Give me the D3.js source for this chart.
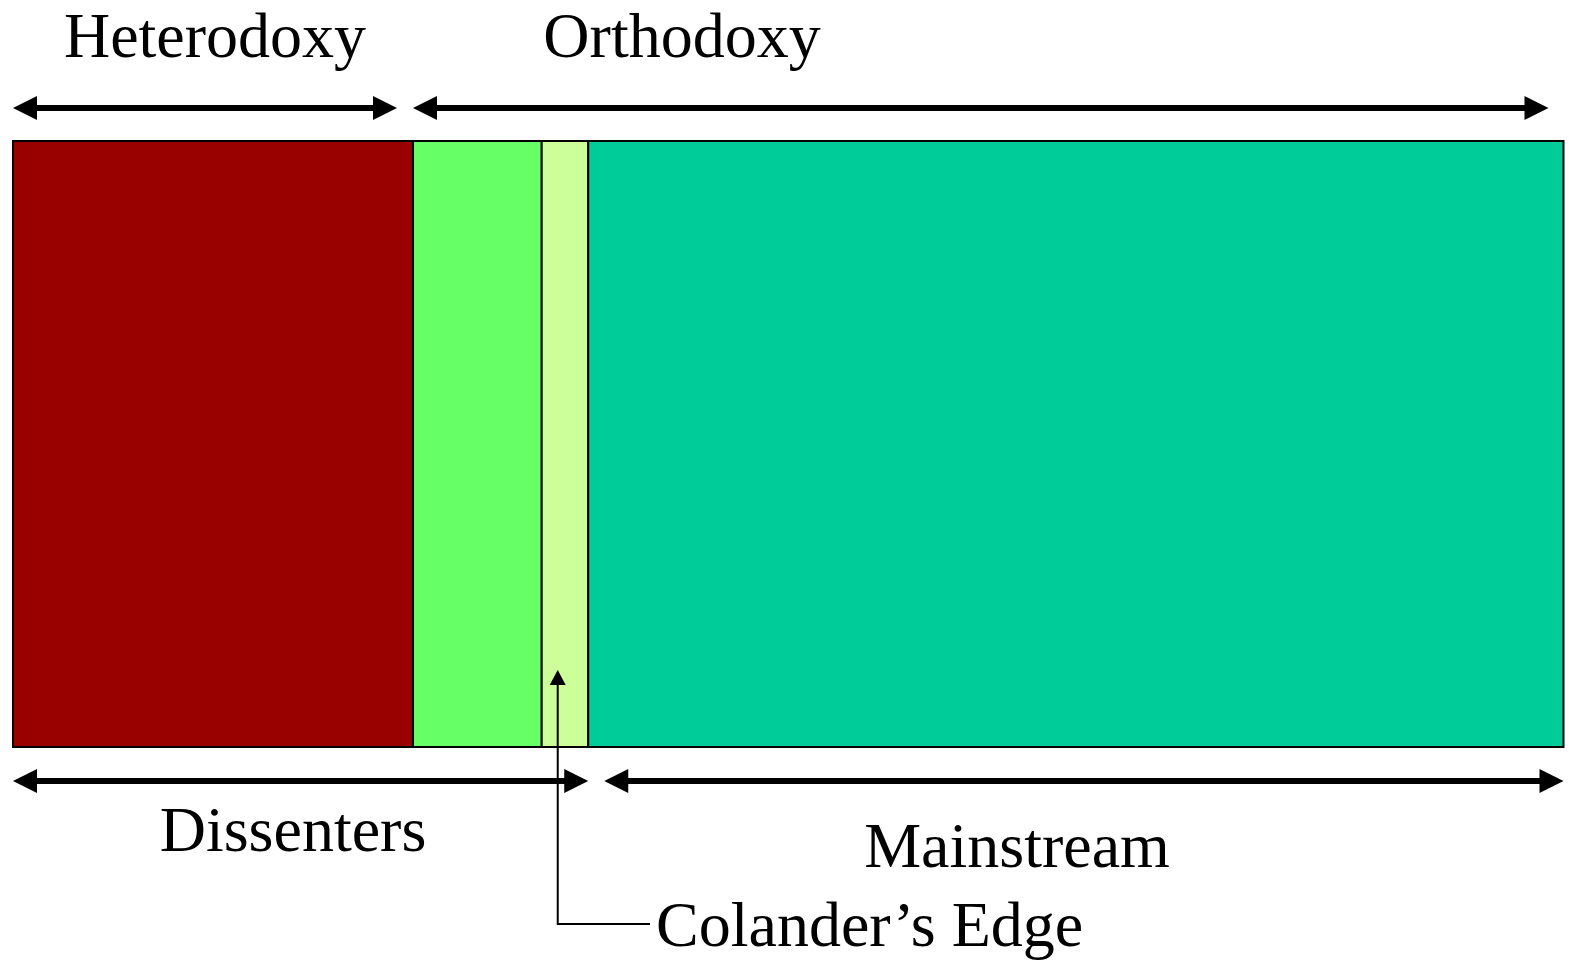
<!DOCTYPE html>
<meta charset="utf-8">
<script src="https://d3js.org/d3.v7.min.js"></script>
<style>
body { margin: 0; background: #fff; }
svg text { font-family: "Liberation Serif", "Times New Roman", serif; fill: #000; }
</style>
<body>
<div id="chart"></div>
<script>
// segments of the band, left to right
var segments = ["Heterodox", "Dissenting orthodox", "Colander's Edge", "Mainstream"];
var shares = [25.8, 8.3, 3.0, 62.9];
var colors = ["#990000", "#66FF66", "#CCFF99", "#00CC99"];

// spans: label, first segment, last segment
var topLabels = ["Heterodoxy", "Orthodoxy"];
var topFrom = [0, 1];
var topTo = [0, 3];
var bottomLabels = ["Dissenters", "Mainstream"];
var bottomFrom = [0, 3];
var bottomTo = [2, 3];

var width = 1569, height = 962;
var svg = d3.select("#chart").append("svg")
    .attr("width", width)
    .attr("height", height);

var starts = [0];
shares.forEach(function(d, i) { starts.push(starts[i] + d); });

var x = d3.scaleLinear()
    .domain([0, d3.sum(shares)])
    .range([13, 1563.5]);

var bandTop = 141, bandBottom = 747;

// the band
svg.selectAll(".seg")
    .data(shares)
  .enter().append("rect")
    .attr("class", "seg")
    .attr("x", function(d, i) { return x(starts[i]); })
    .attr("y", bandTop)
    .attr("width", function(d, i) { return x(starts[i + 1]) - x(starts[i]); })
    .attr("height", bandBottom - bandTop)
    .attr("fill", function(d, i) { return colors[i]; })
    .attr("stroke", "#000")
    .attr("stroke-width", 2);

// double headed arrow
function arrow(x1, x2, y) {
  var len = 24, hw = 12;
  svg.append("line")
      .attr("x1", x1 + len - 2).attr("x2", x2 - len + 2)
      .attr("y1", y).attr("y2", y)
      .attr("stroke", "#000").attr("stroke-width", 6);
  svg.append("path")
      .attr("d", "M" + x1 + "," + y + "L" + (x1 + len) + "," + (y - hw) + "L" + (x1 + len) + "," + (y + hw) + "Z");
  svg.append("path")
      .attr("d", "M" + x2 + "," + y + "L" + (x2 - len) + "," + (y - hw) + "L" + (x2 - len) + "," + (y + hw) + "Z");
}

// top spans
var topX1 = [0, 0], topX2 = [-16, -15];
topLabels.forEach(function(lab, i) {
  var a = x(starts[topFrom[i]]) + topX1[i];
  var b = x(starts[topTo[i] + 1]) + topX2[i];
  arrow(a, b, 108);
});
svg.append("text").attr("x", 215).attr("y", 57)
    .attr("text-anchor", "middle").style("font-size", "64px").text(topLabels[0]);
svg.append("text").attr("x", 682).attr("y", 57)
    .attr("text-anchor", "middle").style("font-size", "64px").text(topLabels[1]);

// bottom spans
var botX1 = [0, 16], botX2 = [0, 0];
bottomLabels.forEach(function(lab, i) {
  var a = x(starts[bottomFrom[i]]) + botX1[i];
  var b = x(starts[bottomTo[i] + 1]) + botX2[i];
  arrow(a, b, 781);
});
svg.append("text").attr("x", 293).attr("y", 851)
    .attr("text-anchor", "middle").style("font-size", "64px").text(bottomLabels[0]);
svg.append("text").attr("x", 1017).attr("y", 867)
    .attr("text-anchor", "middle").style("font-size", "64px").text(bottomLabels[1]);

// pointer to the colander's edge
var cx = x(starts[2]) + 16;
svg.append("path")
    .attr("d", "M" + cx + ",682L" + cx + ",924L650,924")
    .attr("fill", "none").attr("stroke", "#000").attr("stroke-width", 2);
svg.append("path")
    .attr("d", "M" + cx + ",670L" + (cx - 8) + ",685L" + (cx + 8) + ",685Z");
svg.append("text").attr("x", 656).attr("y", 946)
    .style("font-size", "64px").text(segments[2].replace("'", "\u2019"));
</script>
</body>
